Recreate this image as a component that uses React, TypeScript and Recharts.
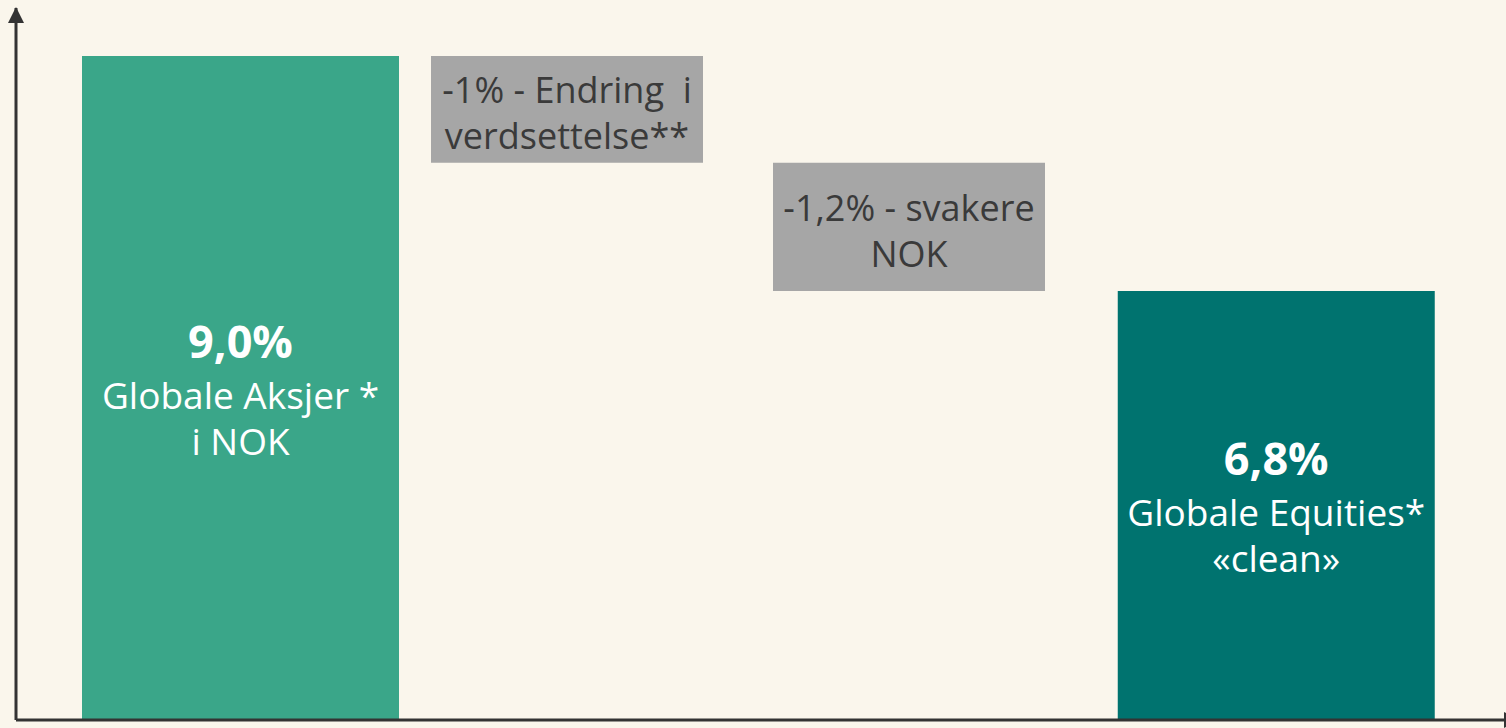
import React from 'react';
import { BarChart, Bar, XAxis, YAxis, LabelList, Cell, ReferenceLine } from 'recharts';

const categories = ['Globale Aksjer i NOK', 'Endring i verdsettelse', 'Svakere NOK', 'Globale Equities clean'];
const totalValues: (number | null)[] = [9.0, null, null, 6.8];
const changeValues: (number | null)[] = [null, -1.0, -1.2, null];
const valueLabels = ['9,0%', '-1%', '-1,2%', '6,8%'];
const textLines = [
  ['Globale Aksjer *', 'i NOK'],
  ['-1% - Endring  i', 'verdsettelse**'],
  ['-1,2% - svakere', 'NOK'],
  ['Globale Equities*', '«clean»'],
];
const barColors = ['#3AA689', '#A6A6A6', '#A6A6A6', '#00736F'];

const Y_MIN = 2.78;
const Y_MAX = 9.45;

const data = (() => {
  let level = 0;
  return categories.map((cat, i) => {
    const row: any = { cat };
    const t = totalValues[i];
    const c = changeValues[i];
    if (t != null) {
      level = t;
      row.total = t;
    } else if (c != null) {
      row.range = [level + c, level];
      level = level + c;
    }
    return row;
  });
})();

const FONT = '"Open Sans", "Noto Sans", sans-serif';
const BG = '#FAF6EC';
const AXIS = '#333333';

const getBox = (p: any) => {
  const vb = p.viewBox || {};
  const x = p.x ?? vb.x;
  const y = p.y ?? vb.y;
  const width = p.width ?? vb.width;
  const height = p.height ?? vb.height;
  return { x: Number(x), y: Number(y), width: Number(width), height: Number(height) };
};

const catIndex = (p: any) => {
  const v = p.value;
  return categories.indexOf(Array.isArray(v) ? v[0] : v);
};

const TotalLabel = (p: any) => {
  const { x, y, width, height } = getBox(p);
  const i = catIndex(p);
  if (i < 0 || totalValues[i] == null || !isFinite(y)) return null;
  const cx = x + width / 2;
  const cy = y + Math.abs(height) / 2 + (height < 0 ? height : 0);
  const lines = textLines[i];
  return (
    <text x={cx} y={cy - 30} textAnchor="middle" fill="#FFFFFF" fontFamily={FONT} fontSize={37}>
      <tspan x={cx} fontSize={45} fontWeight={700}>{valueLabels[i]}</tspan>
      <tspan x={cx} dy={51}>{lines[0]}</tspan>
      <tspan x={cx} dy={46}>{lines[1]}</tspan>
    </text>
  );
};

const ChangeLabel = (p: any) => {
  const { x, y, width, height } = getBox(p);
  const i = catIndex(p);
  if (i < 0 || changeValues[i] == null || !isFinite(y)) return null;
  const cx = x + width / 2;
  const cy = y + Math.abs(height) / 2 + (height < 0 ? height : 0);
  const lines = textLines[i];
  return (
    <text x={cx} y={cy - 6} textAnchor="middle" fill="#3A3A3A" fontFamily={FONT} fontSize={36} style={{ whiteSpace: 'pre' }}>
      <tspan x={cx}>{lines[0]}</tspan>
      <tspan x={cx} dy={46}>{lines[1]}</tspan>
    </text>
  );
};

export default function App() {
  return (
    <div style={{ position: 'absolute', left: 0, top: 0, width: 1506, height: 728, background: BG, overflow: 'hidden' }}>
      <BarChart width={1506} height={728} data={data} margin={{ top: 8, right: 0, bottom: 0, left: 0 }}>
        <defs>
          <marker id="arrowUp" markerUnits="userSpaceOnUse" markerWidth={16} markerHeight={16} refX={15} refY={8} orient="auto-start-reverse" viewBox="0 0 16 16">
            <path d="M0,0 L16,8 L0,16 z" fill={AXIS} />
          </marker>
          <marker id="arrowRight" markerUnits="userSpaceOnUse" markerWidth={16} markerHeight={16} refX={2} refY={8} orient="auto" viewBox="0 0 16 16">
            <path d="M0,0 L16,8 L0,16 z" fill={AXIS} />
          </marker>
        </defs>
        <XAxis
          xAxisId="tot"
          dataKey="cat"
          height={8}
          tick={false}
          tickLine={false}
          padding={{ left: 52, right: 57 }}
          axisLine={false}
        />
        <XAxis xAxisId="chg" dataKey="cat" hide padding={{ left: 38, right: 84 }} />
        <YAxis
          width={16}
          type="number"
          domain={[Y_MIN, Y_MAX]}
          allowDataOverflow
          tick={false}
          tickLine={false}
          axisLine={{ stroke: AXIS, strokeWidth: 3, markerStart: 'url(#arrowUp)' } as any}
        />
        <Bar xAxisId="tot" dataKey="total" barSize={317} isAnimationActive={false}>
          {data.map((d, i) => (
            <Cell key={d.cat} fill={barColors[i]} />
          ))}
          <LabelList dataKey="cat" content={TotalLabel} />
        </Bar>
        <Bar xAxisId="chg" dataKey="range" barSize={272} fill="#A6A6A6" isAnimationActive={false}>
          <LabelList dataKey="cat" content={ChangeLabel} />
        </Bar>
        <ReferenceLine
          xAxisId="tot"
          y={Y_MIN}
          stroke={AXIS}
          strokeWidth={3}
          ifOverflow="visible"
          {...({ markerEnd: 'url(#arrowRight)' } as any)}
        />
      </BarChart>
    </div>
  );
}
